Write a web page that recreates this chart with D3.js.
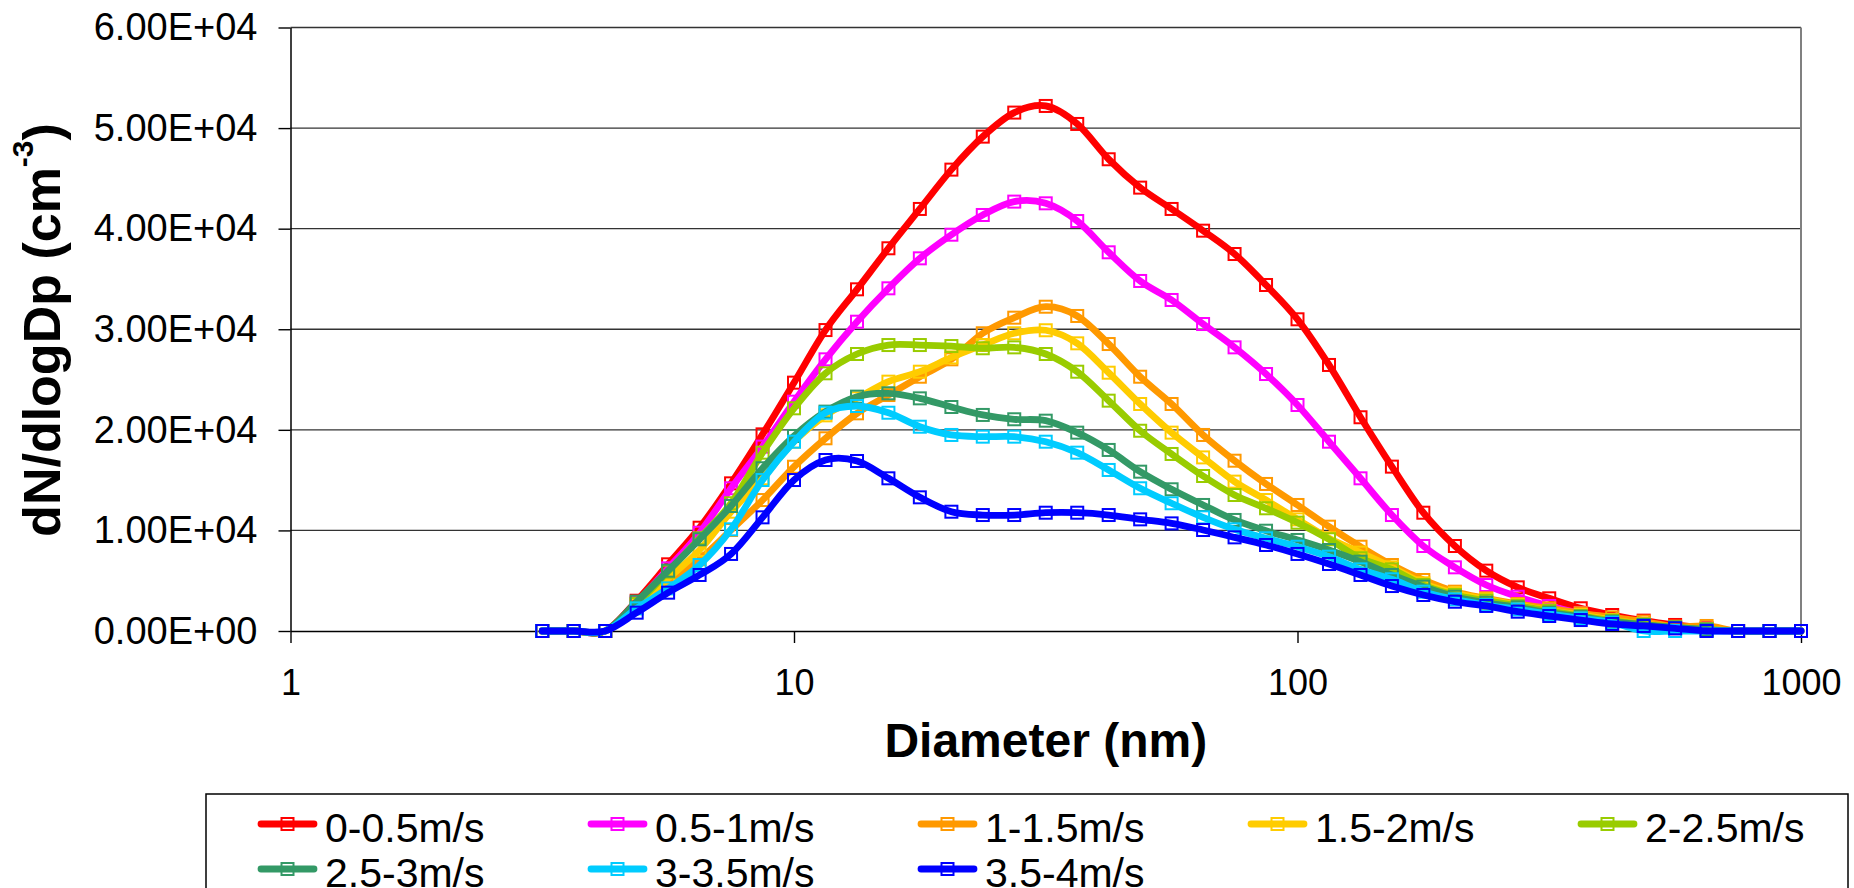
<!DOCTYPE html>
<html><head><meta charset="utf-8">
<script src="https://cdn.jsdelivr.net/npm/d3@7"></script>
<style>
body{margin:0;background:#fff;}
svg{display:block;}
text{font-family:"Liberation Sans",Arial,sans-serif;}
</style>
</head><body>
<svg id="chart" width="1854" height="888"></svg>
<script>
// Diameter channels (nm)
const diameters = [3.162,3.652,4.217,4.870,5.623,6.494,7.499,8.660,10.0,11.55,13.34,15.40,17.78,20.54,23.71,27.38,31.62,36.52,42.17,48.70,56.23,64.94,74.99,86.60,100,115.5,133.4,154.0,177.8,205.4,237.1,273.8,316.2,365.2,421.7,487.0,562.3,649.4,749.9,866.0,1000];

const seriesNames = ["0-0.5m/s","0.5-1m/s","1-1.5m/s","1.5-2m/s","2-2.5m/s","2.5-3m/s","3-3.5m/s","3.5-4m/s"];
const seriesColors = ["#FF0000","#FF00FF","#FF9900","#FFCC00","#99CC00","#339966","#00CCFF","#0000FF"];

const s_0_05 = [0,0,0,3010,6630,10270,14680,19550,24690,29920,33970,38050,41960,45870,49150,51540,52200,50410,46900,44080,41960,39800,37480,34400,30990,26450,21250,16340,11760,8450,6000,4340,3250,2260,1590,1030,600,270,0,0,0];
const s_05_1 = [0,0,0,2800,6230,9770,14190,18330,22800,27010,30750,34070,37050,39400,41360,42690,42520,40760,37650,34800,32910,30520,28200,25550,22470,18820,15180,11530,8450,6330,4570,3410,2490,1760,1090,600,270,100,0,0,0];
const s_1_15 = [0,0,0,2700,5000,7130,10040,13020,16330,19160,21640,23460,25280,27010,29600,31150,32240,31320,28530,25280,22570,19490,16930,14620,12530,10370,8380,6560,5070,3910,3250,2680,2250,1760,1360,930,430,500,0,0,0];
const s_15_2 = [0,0,0,2600,5240,8050,11860,15180,18820,21440,23130,24790,25780,27200,28430,29600,29900,28600,25680,22570,19720,17260,14850,13020,11100,9220,7790,6330,4740,3750,3150,2580,2020,1590,1090,700,350,200,0,0,0];
const s_2_25 = [0,0,0,2700,5900,9220,12700,17730,22140,25620,27540,28430,28430,28330,28110,28200,27540,25780,22900,19910,17600,15410,13520,12200,10770,9120,7230,6130,4570,3580,3010,2490,1990,1490,1030,650,350,150,0,0,0];
const s_25_3 = [0,0,0,2920,6000,9120,12430,16180,19390,21810,23300,23630,23130,22270,21480,21050,20910,19720,18000,15840,14090,12530,11040,9970,9050,8050,6890,5570,4410,3410,2810,2350,1820,1420,930,600,350,150,0,0,0];
const s_3_35 = [0,0,0,2250,4240,6560,10110,15010,18820,21700,22370,21700,20310,19490,19320,19320,18820,17730,16010,14190,12700,11300,10110,9220,8380,7390,6130,5140,3910,3150,2580,2150,1690,1260,830,0,0,0,0,0,0];
const s_35_4 = [0,0,0,1820,3810,5570,7660,11300,15010,17000,16900,15180,13290,11860,11530,11530,11760,11760,11530,11100,10700,10040,9310,8550,7660,6660,5570,4470,3580,2910,2490,1920,1490,1090,700,500,270,0,0,0,0];

const seriesValues = [s_0_05, s_05_1, s_1_15, s_15_2, s_2_25, s_25_3, s_3_35, s_35_4];

const yTicks = [0,10000,20000,30000,40000,50000,60000];
const yTickLabels = ["0.00E+00","1.00E+04","2.00E+04","3.00E+04","4.00E+04","5.00E+04","6.00E+04"];
const xTicks = [1,10,100,1000];
const xTickLabels = ["1","10","100","1000"];

const svg = d3.select("#chart");
svg.append("rect").attr("width",1854).attr("height",888).attr("fill","#fff");

const L = 290.5, R = 1801, T = 27.5, B = 631;
const x = d3.scaleLog().domain([1,1000]).range([L,R]);
const y = d3.scaleLinear().domain([0,60000]).range([B,T]);

// gridlines
svg.append("g").selectAll("line").data(yTicks.slice(1)).join("line")
  .attr("x1",L).attr("x2",R)
  .attr("y1",d=>y(d)).attr("y2",d=>y(d))
  .attr("stroke","#333").attr("stroke-width",1.4);

// right border of plot area
svg.append("line").attr("x1",R).attr("x2",R).attr("y1",T).attr("y2",B)
  .attr("stroke","#808080").attr("stroke-width",2);

// y axis
const gy = svg.append("g").attr("transform",`translate(${L},0)`)
  .call(d3.axisLeft(y).tickValues(yTicks).tickFormat((d,i)=>yTickLabels[i])
    .tickSize(12).tickSizeOuter(0).tickPadding(21));
gy.selectAll("text").attr("font-size",38).attr("fill","#000").style("font-family",'"Liberation Sans",Arial,sans-serif');
gy.selectAll("line").attr("stroke","#000").attr("stroke-width",1.4);
gy.select(".domain").attr("stroke","#000").attr("stroke-width",1.5);

// x axis
const gx = svg.append("g").attr("transform",`translate(0,${B})`)
  .call(d3.axisBottom(x).tickValues(xTicks).tickFormat((d,i)=>xTickLabels[i])
    .tickSize(12).tickSizeOuter(0).tickPadding(26));
gx.selectAll("text").attr("font-size",36).attr("fill","#000").style("font-family",'"Liberation Sans",Arial,sans-serif');
gx.selectAll("line").attr("stroke","#000").attr("stroke-width",1.4);
gx.select(".domain").attr("stroke","#000").attr("stroke-width",1.5);

// series
const line = d3.line()
  .x((d,i)=>x(diameters[i]))
  .y(d=>y(d))
  .curve(d3.curveCardinal.tension(0));

const ms = 12;
seriesValues.forEach((vals,si)=>{
  const g = svg.append("g");
  g.append("path").attr("d",line(vals))
    .attr("fill","none").attr("stroke",seriesColors[si])
    .attr("stroke-width",6.8).attr("stroke-linejoin","round").attr("stroke-linecap","round");
  g.selectAll("rect").data(vals).join("rect")
    .attr("x",(d,i)=>x(diameters[i])-ms/2)
    .attr("y",d=>y(d)-ms/2)
    .attr("width",ms).attr("height",ms)
    .attr("fill","none").attr("stroke",seriesColors[si]).attr("stroke-width",2);
});

// axis titles
svg.append("text").attr("x",(L+R)/2).attr("y",757)
  .attr("text-anchor","middle").attr("font-size",48).attr("font-weight","bold")
  .text("Diameter (nm)");

const yt = svg.append("text").attr("transform","translate(60,330) rotate(-90)")
  .attr("text-anchor","middle").attr("font-size",52).attr("font-weight","bold");
yt.append("tspan").text("dN/dlogDp (cm");
yt.append("tspan").attr("font-size",30).attr("dy",-27).text("-3");
yt.append("tspan").attr("font-size",52).attr("dy",27).text(")");

// legend
const lg = svg.append("g");
lg.append("rect").attr("x",206).attr("y",794).attr("width",1642).attr("height",140)
  .attr("fill","none").attr("stroke","#000").attr("stroke-width",1.5);
seriesNames.forEach((name,i)=>{
  const col = i%5, row = Math.floor(i/5);
  const lx = 258 + 330*col, ly = 824 + 45*row;
  lg.append("line").attr("x1",lx+3).attr("x2",lx+56).attr("y1",ly).attr("y2",ly)
    .attr("stroke",seriesColors[i]).attr("stroke-width",6.8).attr("stroke-linecap","round");
  lg.append("rect").attr("x",lx+29.5-ms/2).attr("y",ly-ms/2).attr("width",ms).attr("height",ms)
    .attr("fill","none").attr("stroke",seriesColors[i]).attr("stroke-width",2);
  lg.append("text").attr("x",325+330*col).attr("y",ly+17.5)
    .attr("font-size",41).attr("fill","#000").text(name);
});
</script>
</body></html>
